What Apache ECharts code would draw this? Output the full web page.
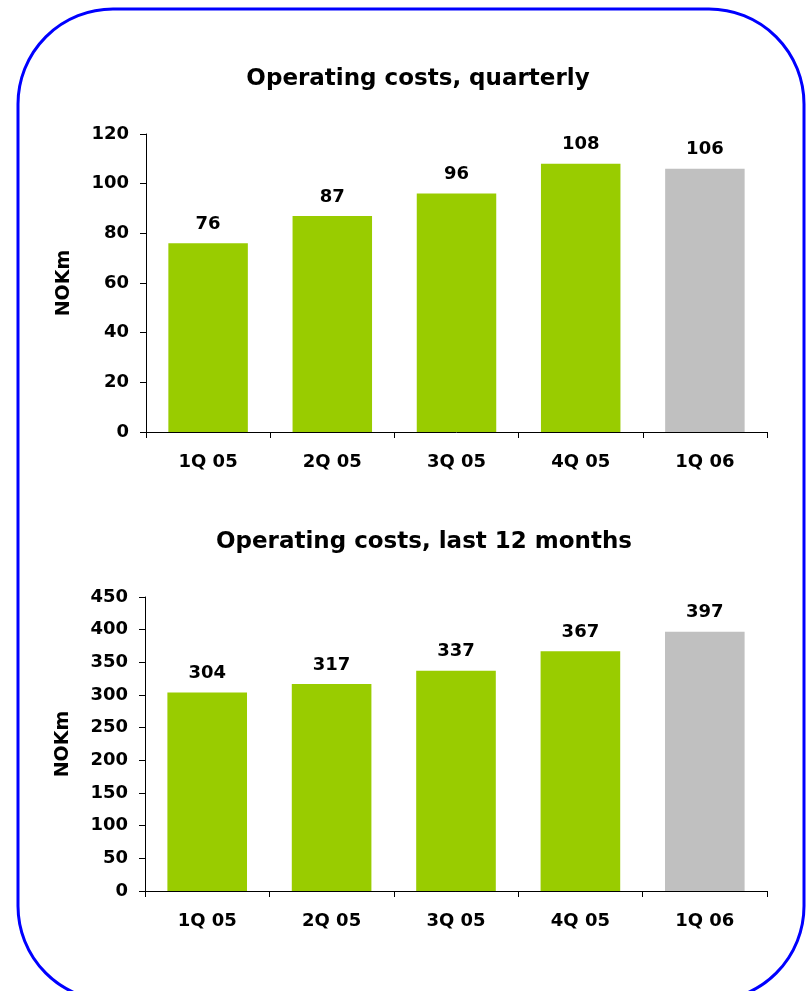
<!DOCTYPE html>
<html><head><meta charset="utf-8">
<script src="https://cdn.jsdelivr.net/npm/echarts@6/dist/echarts.min.js"></script>
<style>html,body{margin:0;padding:0;background:#fff}#c{width:807px;height:991px}</style>
</head><body><div id="c"></div>
<script>
const categories = ['1Q 05','2Q 05','3Q 05','4Q 05','1Q 06'];
const quarterly = [76, 87, 96, 108, 106];
const last12 = [304, 317, 337, 367, 397];
const title1 = 'Operating costs, quarterly';
const title2 = 'Operating costs, last 12 months';
const yName = 'NOKm';
const GREEN = '#99CC00', GREY = '#C0C0C0';
const FONT = 'DejaVu Sans';

function barData(vals){
  return vals.map((v,i)=>({value:v, itemStyle:{color: i===vals.length-1 ? GREY : GREEN}}));
}
const chart = echarts.init(document.getElementById('c'), null, {renderer:'canvas'});
const axisLbl = {color:'#000', fontWeight:'bold', fontSize:18, fontFamily:FONT};
function xAxis(idx){
  return {type:'category', gridIndex:idx, data:categories,
    axisLine:{lineStyle:{color:'#000', width:1}},
    axisTick:{show:true, alignWithLabel:false, length:6, lineStyle:{color:'#000'}},
    axisLabel:Object.assign({margin:21}, axisLbl)};
}
function yAxis(idx, max, interval){
  return {type:'value', gridIndex:idx, min:0, max:max, interval:interval,
    name:yName, nameLocation:'middle', nameRotate:90, nameGap:72,
    nameTextStyle:{color:'#000', fontWeight:'bold', fontSize:19, fontFamily:FONT},
    splitLine:{show:false},
    axisLine:{show:true, lineStyle:{color:'#000', width:1}},
    axisTick:{show:true, length:6, lineStyle:{color:'#000'}},
    axisLabel:Object.assign({margin:17}, axisLbl)};
}
function series(idx, vals){
  return {type:'bar', xAxisIndex:idx, yAxisIndex:idx, data:barData(vals),
    barCategoryGap:'36%',
    label:{show:true, position:'top', distance:10, color:'#000', fontWeight:'bold', fontSize:18, fontFamily:FONT}};
}
chart.setOption({
  animation:false,
  title:[
    {text:title1, left:413, textAlign:'center', top:63, textStyle:{fontSize:23, fontWeight:'bold', color:'#000', fontFamily:FONT}},
    {text:title2, left:419, textAlign:'center', top:526, textStyle:{fontSize:23, fontWeight:'bold', color:'#000', fontFamily:FONT}}
  ],
  grid:[
    {left:146, right:40, top:134, height:298},
    {left:145, right:40, top:597, height:294}
  ],
  xAxis:[xAxis(0), xAxis(1)],
  yAxis:[yAxis(0,120,20), yAxis(1,450,50)],
  series:[series(0,quarterly), series(1,last12)],
  graphic:[{type:'rect', shape:{x:18, y:9, width:786, height:992, r:95},
    style:{fill:'none', stroke:'#0000FF', lineWidth:3}, silent:true, z:100}]
});
</script></body></html>
